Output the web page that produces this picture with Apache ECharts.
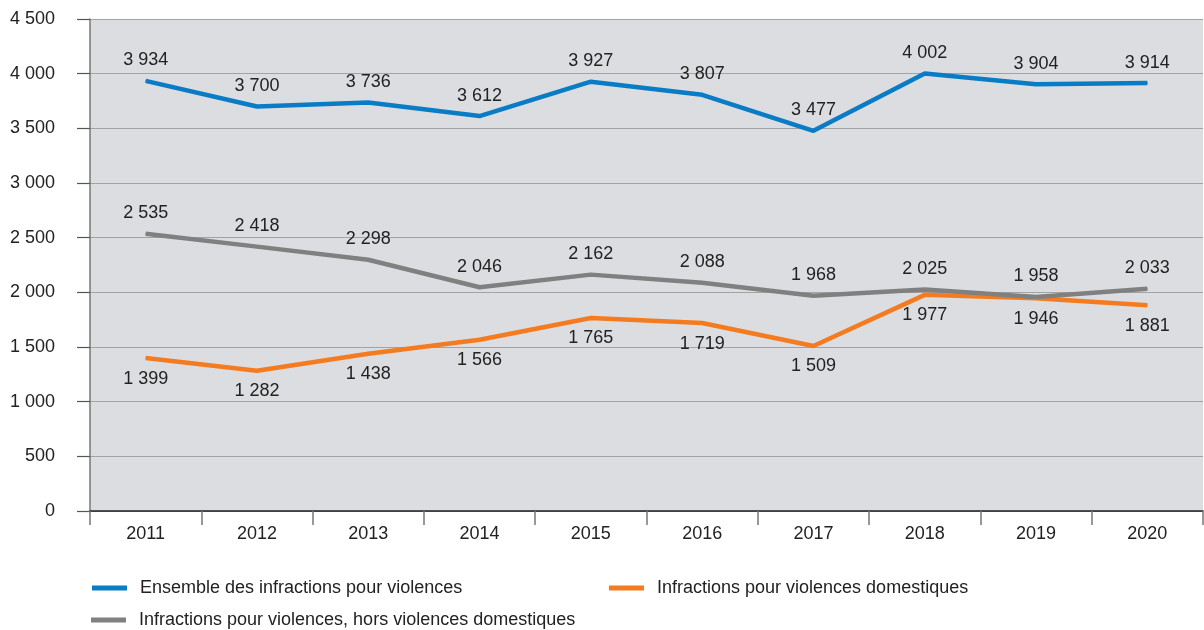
<!DOCTYPE html>
<html>
<head>
<meta charset="utf-8">
<script src="https://cdn.jsdelivr.net/npm/echarts@6/dist/echarts.min.js"></script>
<style>
  html, body { margin: 0; padding: 0; background: #fff; }
  #main { width: 1204px; height: 630px; }
</style>
</head>
<body>
<div id="main"></div>
<script>
var years = ['2011', '2012', '2013', '2014', '2015', '2016', '2017', '2018', '2019', '2020'];
var ensemble = [3934, 3700, 3736, 3612, 3927, 3807, 3477, 4002, 3904, 3914];
var horsDomestiques = [2535, 2418, 2298, 2046, 2162, 2088, 1968, 2025, 1958, 2033];
var domestiques = [1399, 1282, 1438, 1566, 1765, 1719, 1509, 1977, 1946, 1881];

var nameEnsemble = 'Ensemble des infractions pour violences';
var nameDomestiques = 'Infractions pour violences domestiques';
var nameHors = 'Infractions pour violences, hors violences domestiques';

// séparateur de milliers : espace
function fmt(v) {
    return String(v).replace(/\B(?=(\d{3})+(?!\d))/g, ' ');
}

var font = 'Liberation Sans, Arial, sans-serif';

function makeSeries(name, data, color, pos) {
    return {
        name: name,
        type: 'line',
        data: data,
        symbol: 'circle',
        symbolSize: 1,
        itemStyle: { color: color },
        lineStyle: { color: color, width: 4.5 },
        label: {
            show: true,
            position: pos,
            distance: 11,
            color: '#222',
            fontSize: 18,
            fontFamily: font,
            formatter: function (p) { return fmt(p.value); }
        },
        emphasis: { disabled: true },
        animation: false
    };
}

function makeLegend(name, left, top) {
    return {
        data: [name],
        left: left,
        top: top,
        icon: 'rect',
        itemWidth: 35,
        itemHeight: 5,
        itemGap: 0,
        padding: 0,
        textStyle: { fontSize: 18, color: '#222', fontFamily: font, padding: [0, 0, 0, 8] },
        selectedMode: false
    };
}

var myChart = echarts.init(document.getElementById('main'));

var option = {
    animation: false,
    color: ['#0a7cc6', '#f47b20', '#808080'],
    grid: {
        left: 90,
        right: 1,
        top: 19,
        bottom: 119,
        show: true,
        backgroundColor: '#dcdde0',
        borderWidth: 0
    },
    legend: [
        makeLegend(nameEnsemble, 92, 579),
        makeLegend(nameDomestiques, 609, 579),
        makeLegend(nameHors, 91, 611)
    ],
    xAxis: {
        type: 'category',
        data: years,
        boundaryGap: true,
        axisLine: { show: true, lineStyle: { color: '#222', width: 1.5 } },
        axisTick: { show: true, alignWithLabel: false, length: 14, lineStyle: { color: '#777', width: 1.5 } },
        axisLabel: { color: '#222', fontSize: 18, fontFamily: font, margin: 14 }
    },
    yAxis: {
        type: 'value',
        min: 0,
        max: 4500,
        interval: 500,
        axisLine: { show: true, lineStyle: { color: '#777', width: 1.5 } },
        axisTick: { show: true, length: 13, lineStyle: { color: '#555', width: 1.2 } },
        axisLabel: {
            color: '#222',
            fontSize: 18,
            fontFamily: font,
            margin: 35,
            formatter: function (v) { return fmt(v); }
        },
        splitLine: { show: true, lineStyle: { color: '#a3a3a3', width: 1.2 } }
    },
    series: [
        makeSeries(nameEnsemble, ensemble, '#0a7cc6', 'top'),
        makeSeries(nameDomestiques, domestiques, '#f47b20', 'bottom'),
        makeSeries(nameHors, horsDomestiques, '#808080', 'top')
    ]
};

option && myChart.setOption(option);
</script>
</body>
</html>
